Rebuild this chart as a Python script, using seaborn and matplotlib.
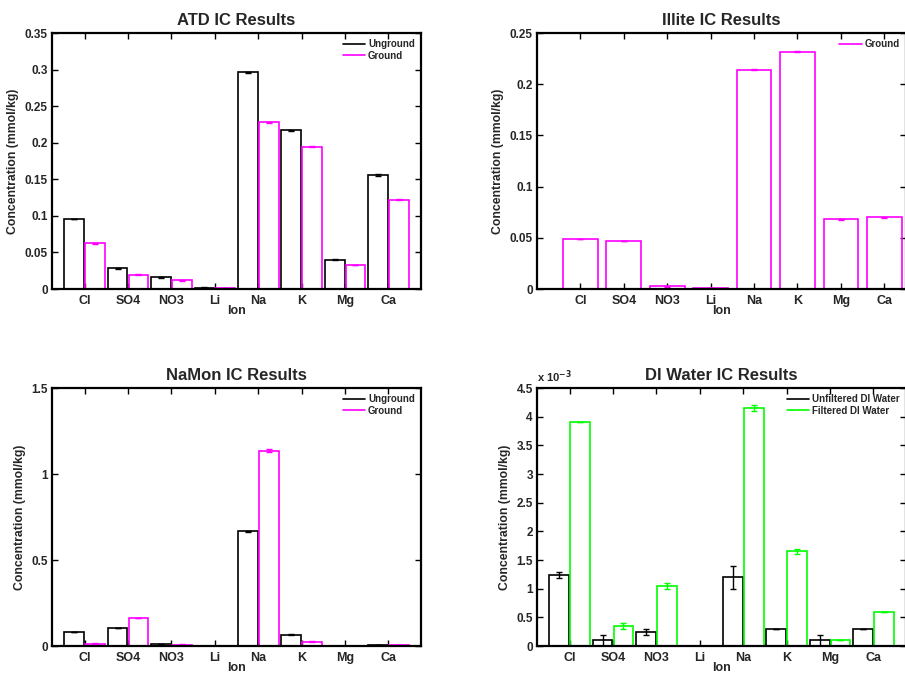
import numpy as np
import pandas as pd
import matplotlib
matplotlib.use("Agg")
import matplotlib.pyplot as plt
from matplotlib.lines import Line2D
from matplotlib.ticker import FuncFormatter
import seaborn as sns

ions = ["Cl", "SO4", "NO3", "Li", "Na", "K", "Mg", "Ca"]

# ATD (mmol/kg)
atd_unground = [0.0955, 0.0282, 0.0159, 0.0020, 0.2964, 0.2168, 0.0400, 0.1559]
atd_unground_err = [0.0004, 0.0004, 0.0004, 0.0002, 0.0006, 0.0004, 0.0004, 0.0015]
atd_ground = [0.0623, 0.0195, 0.0118, 0.0010, 0.2277, 0.1945, 0.0327, 0.1223]
atd_ground_err = [0.0004, 0.0004, 0.0004, 0.0002, 0.0005, 0.0005, 0.0004, 0.0008]

# Illite
illite_ground = [0.0487, 0.0468, 0.0026, 0.0006, 0.2140, 0.2315, 0.0682, 0.0701]
illite_ground_err = [0.0003, 0.0003, 0.0003, 0.0002, 0.0004, 0.0005, 0.0006, 0.0006]

# NaMon
namon_unground = [0.0818, 0.1050, 0.0097, 0.0010, 0.6680, 0.0643, 0.0010, 0.0060]
namon_unground_err = [0.002, 0.002, 0.002, 0.0005, 0.003, 0.003, 0.0005, 0.001]
namon_ground = [0.0136, 0.1636, 0.0080, 0.0020, 1.1360, 0.0253, 0.0020, 0.0060]
namon_ground_err = [0.002, 0.002, 0.002, 0.0005, 0.008, 0.002, 0.0005, 0.001]

# DI water
di_unfiltered = [1.245e-3, 0.10e-3, 0.245e-3, 0.0, 1.20e-3, 0.30e-3, 0.10e-3, 0.30e-3]
di_unfiltered_err = [0.05e-3, 0.10e-3, 0.05e-3, 0.0, 0.20e-3, 0.0, 0.10e-3, 0.0]
di_filtered = [3.90e-3, 0.35e-3, 1.05e-3, 0.0, 4.15e-3, 1.65e-3, 0.10e-3, 0.60e-3]
di_filtered_err = [0.0, 0.05e-3, 0.05e-3, 0.0, 0.05e-3, 0.05e-3, 0.0, 0.0]

sns.set_theme(style="white")
plt.rcParams["font.family"] = ["Liberation Sans", "DejaVu Sans"]
plt.rcParams["font.weight"] = "bold"
plt.rcParams["axes.labelweight"] = "bold"
plt.rcParams["axes.titleweight"] = "bold"
plt.rcParams["mathtext.default"] = "bf"


def draw_panel(ax, series, title, ymax, ystep, xlim, width, gap, scale=1.0):
    frames = []
    for name, vals, errs, color in series:
        frames.append(pd.DataFrame({"Ion": ions, "Value": vals, "Err": errs, "Sample": name}))
    df = pd.concat(frames, ignore_index=True)
    colors = [s[3] for s in series]
    sns.barplot(data=df, x="Ion", y="Value", hue="Sample", palette=colors,
                fill=False, width=width, gap=gap, errorbar=None,
                linewidth=1.2, legend=False, ax=ax)

    # error bars on top of each bar
    color_of = {s[0]: s[3] for s in series}
    for p, (_, row) in zip(ax.patches, df.iterrows()):
        xc = p.get_x() + p.get_width() / 2
        ax.errorbar(xc, row["Value"], yerr=row["Err"], fmt="none",
                    ecolor=color_of[row["Sample"]], elinewidth=1, capsize=2)

    ax.set_xlim(*xlim)
    ax.set_ylim(0, ymax)
    ax.set_yticks(np.arange(0, ymax + ystep / 2, ystep))
    ax.yaxis.set_major_formatter(FuncFormatter(lambda v, _: f"{v * scale:g}"))
    ax.set_title(title, fontsize=12, pad=6)
    ax.set_xlabel("Ion", fontsize=9, labelpad=-1)
    ax.set_ylabel("Concentration (mmol/kg)", fontsize=8.8)
    ax.tick_params(axis="both", direction="in", top=True, right=True,
                   bottom=True, left=True, length=4.5, width=1, color="black")
    ax.tick_params(axis="x", labelsize=9, pad=4)
    ax.tick_params(axis="y", labelsize=8.5, pad=3)
    for sp in ax.spines.values():
        sp.set_color("black")
        sp.set_linewidth(1.6)

    handles = [Line2D([0], [0], color=s[3], lw=1.2) for s in series]
    ax.legend(handles, [s[0] for s in series], loc="upper right", frameon=False,
              fontsize=7, handlelength=2.3, handletextpad=0.3, labelspacing=0.15,
              borderaxespad=0.25)


fig = plt.figure(figsize=(9.05, 6.74), dpi=100)
ax1 = fig.add_axes([0.0575, 0.5712, 0.4077, 0.3798])
ax2 = fig.add_axes([0.5934, 0.5712, 0.4077, 0.3798])
ax3 = fig.add_axes([0.0575, 0.0415, 0.4077, 0.3828])
ax4 = fig.add_axes([0.5934, 0.0415, 0.4077, 0.3828])

draw_panel(ax1, [("Unground", atd_unground, atd_unground_err, "black"),
                 ("Ground", atd_ground, atd_ground_err, "#ff00ff")],
           "ATD IC Results", 0.35, 0.05, (-0.75, 7.75), 0.96, 0.05)
draw_panel(ax2, [("Ground", illite_ground, illite_ground_err, "#ff00ff")],
           "Illite IC Results", 0.25, 0.05, (-1.0, 7.5), 0.8, 0)
draw_panel(ax3, [("Unground", namon_unground, namon_unground_err, "black"),
                 ("Ground", namon_ground, namon_ground_err, "#ff00ff")],
           "NaMon IC Results", 1.5, 0.5, (-0.75, 7.75), 0.96, 0.05)
draw_panel(ax4, [("Unfiltered DI Water", di_unfiltered, di_unfiltered_err, "black"),
                 ("Filtered DI Water", di_filtered, di_filtered_err, "#00ff00")],
           "DI Water IC Results", 4.5e-3, 0.5e-3, (-0.75, 7.75), 0.96, 0.05, scale=1e3)
ax4.text(0.0, 1.01, "x 10$^{-3}$", transform=ax4.transAxes, ha="left", va="bottom",
         fontsize=8)

fig.savefig("out.png", dpi=100)
